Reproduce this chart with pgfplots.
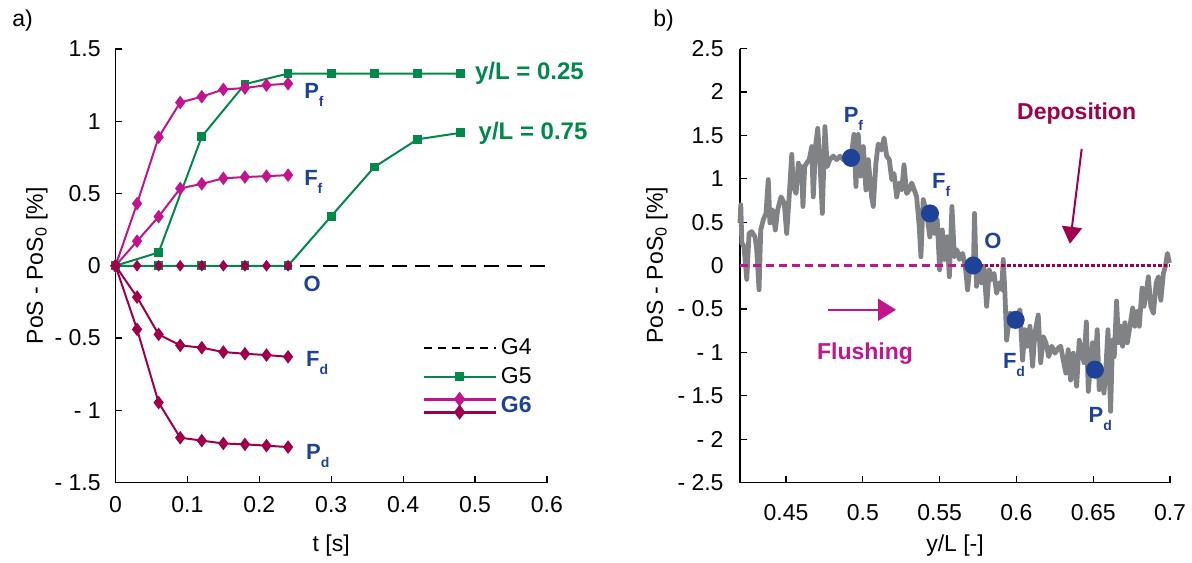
\documentclass[border=0pt]{standalone}
\usepackage{pgfplots}
\pgfplotsset{compat=1.18}
\usepackage{fontspec}
\setmainfont{Liberation Sans}
\usetikzlibrary{arrows.meta}
\definecolor{gcol}{HTML}{00894B}
\definecolor{mcol}{HTML}{C2148C}
\definecolor{ccol}{HTML}{A0004B}
\definecolor{bcol}{HTML}{1F4299}
\definecolor{grcol}{HTML}{808285}
\newcommand{\lab}[2]{\textbf{#1}\raisebox{-4pt}{\fontsize{7}{8}\selectfont\bfseries #2}}
\tikzset{lbl/.style={anchor=base west, inner sep=0pt, text=bcol, font=\fontsize{11}{13}\selectfont}}
\pgfplotsset{
  myax/.style={scale only axis, axis x line*=bottom, axis y line*=left,
    tick align=inside, major tick length=3.5pt,
    axis line style={line width=0.6pt},
    every tick/.style={black,line width=0.6pt},
    tick label style={font=\fontsize{11.5}{13}\selectfont},
    label style={font=\fontsize{11.5}{13}\selectfont},
    clip=false},
  longline legend/.style={legend image code/.code={
    \draw[mark repeat=2,mark phase=2,##1] plot coordinates {(0pt,0pt) (18pt,0pt) (36pt,0pt)};}},
  gsix legend/.style={legend image code/.code={
    \draw[mark repeat=2,mark phase=2,mcol,line width=1.4pt,mark=diamond*,mark size=2.6pt] plot coordinates {(0pt,3.25pt) (18pt,3.25pt) (36pt,3.25pt)};
    \draw[mark repeat=2,mark phase=2,ccol,line width=1.4pt,mark=diamond*,mark size=2.6pt] plot coordinates {(0pt,-3.25pt) (18pt,-3.25pt) (36pt,-3.25pt)};}},
}
\begin{document}
\begin{tikzpicture}
\useasboundingbox (-57.75pt,-39.75pt) rectangle (538.25pt,241.25pt);
\node[font=\fontsize{11.5}{13}\selectfont] at (-46.5pt,231pt) {a)};
\node[font=\fontsize{11.5}{13}\selectfont] at (274pt,231pt) {b)};
\begin{axis}[myax, at={(0,0)}, anchor=south west, width=215.7pt, height=216.75pt,
  xmin=0, xmax=0.6, ymin=-1.5, ymax=1.5,
  xtick={0,0.1,0.2,0.3,0.4,0.5,0.6}, xticklabels={0,0.1,0.2,0.3,0.4,0.5,0.6},
  ytick={-1.5,-1,-0.5,0,0.5,1,1.5}, yticklabels={- 1.5,- 1,- 0.5,0,0.5,1,1.5},
  xticklabel style={yshift=-3.6pt}, yticklabel style={xshift=-3.9pt},
  xlabel={t [s]}, ylabel={PoS - PoS\textsubscript{0} [\%]},
  xlabel style={at={(axis description cs:0.5,0)}, anchor=center, yshift=-31.5pt},
  ylabel style={at={(axis description cs:-0.182,0.5)}, anchor=center},
  legend style={draw=none, fill=none, at={(axis cs:0.426,-0.47)}, anchor=north west,
    font=\fontsize{11.5}{13}\selectfont, row sep=1pt, cells={anchor=west}, inner sep=0pt},
]
\addplot[forget plot, black, line width=1pt, dash pattern=on 7.5pt off 4pt] coordinates {(0,0) (0.6,0)};
% G5 y/L = 0.25
\addplot[forget plot, gcol, line width=1pt, mark=square*, mark size=1.7pt] coordinates {
(0,0) (0.06,0.092) (0.12,0.894) (0.18,1.257) (0.24,1.33) (0.30,1.33) (0.36,1.33) (0.42,1.33) (0.48,1.33)};
% G5 y/L = 0.75
\addplot[forget plot, gcol, line width=1pt, mark=square*, mark size=1.7pt] coordinates {
(0,0) (0.06,0) (0.12,0) (0.18,0) (0.24,0) (0.30,0.343) (0.36,0.683) (0.42,0.875) (0.48,0.92)};
% G6 flushing
\addplot[forget plot, mcol, line width=1pt, mark=diamond*, mark size=2.6pt] coordinates {
(0,0) (0.03,0.43) (0.06,0.89) (0.09,1.13) (0.12,1.17) (0.15,1.22) (0.18,1.23) (0.21,1.25) (0.24,1.26)};
\addplot[forget plot, mcol, line width=1pt, mark=diamond*, mark size=2.6pt] coordinates {
(0,0) (0.03,0.17) (0.06,0.34) (0.09,0.535) (0.12,0.567) (0.15,0.605) (0.18,0.614) (0.21,0.62) (0.24,0.627)};
% G6 deposition
\addplot[forget plot, ccol, line width=1pt, mark=diamond*, mark size=2.6pt] coordinates {
(0,0) (0.03,-0.217) (0.06,-0.475) (0.09,-0.551) (0.12,-0.567) (0.15,-0.597) (0.18,-0.609) (0.21,-0.618) (0.24,-0.63)};
\addplot[forget plot, ccol, line width=1pt, mark=diamond*, mark size=2.6pt] coordinates {
(0,0) (0.03,-0.44) (0.06,-0.947) (0.09,-1.19) (0.12,-1.21) (0.15,-1.23) (0.18,-1.236) (0.21,-1.245) (0.24,-1.255)};
% O
\addplot[forget plot, ccol, only marks, mark=diamond*, mark size=2.6pt] coordinates {
(0.03,0) (0.06,0) (0.09,0) (0.12,0) (0.15,0) (0.18,0) (0.21,0) (0.24,0)};
\addlegendimage{black, line width=1pt, dash pattern=on 4pt off 3pt, longline legend}
\addlegendentry{G4}
\addlegendimage{gcol, line width=1pt, mark=square*, mark size=1.7pt, longline legend}
\addlegendentry{G5}
\addlegendimage{gsix legend}
\addlegendentry{\textcolor{bcol}{\bfseries G6}}
\node[anchor=base west, inner sep=0pt, text=gcol, font=\fontsize{12}{14}\selectfont\bfseries] at (axis cs:0.4995,1.29) {y/L = 0.25};
\node[anchor=base west, inner sep=0pt, text=gcol, font=\fontsize{12}{14}\selectfont\bfseries] at (axis cs:0.5046,0.877) {y/L = 0.75};
\node[lbl] at (axis cs:0.262,1.154) {\lab{P}{f}};
\node[lbl] at (axis cs:0.262,0.552) {\lab{F}{f}};
\node[lbl] at (axis cs:0.261,-0.18) {\textbf{O}};
\node[lbl] at (axis cs:0.2645,-0.699) {\lab{F}{d}};
\node[lbl] at (axis cs:0.2645,-1.34) {\lab{P}{d}};
\end{axis}
\begin{axis}[myax, at={(312.25pt,0)}, anchor=south west, width=215pt, height=217pt,
  xmin=0.42, xmax=0.7, ymin=-2.5, ymax=2.5,
  xtick={0.45,0.5,0.55,0.6,0.65,0.7}, xticklabels={0.45,0.5,0.55,0.6,0.65,0.7},
  ytick={-2.5,-2,-1.5,-1,-0.5,0,0.5,1,1.5,2,2.5},
  yticklabels={- 2.5,- 2,- 1.5,- 1,- 0.5,0,0.5,1,1.5,2,2.5},
  xticklabel style={yshift=-7.5pt}, yticklabel style={xshift=-4.7pt},
  xlabel={y/L [-]}, ylabel={PoS - PoS\textsubscript{0} [\%]},
  xlabel style={at={(axis description cs:0.5,0)}, anchor=center, yshift=-31.7pt},
  ylabel style={at={(axis description cs:-0.193,0.5)}, anchor=center},
]
\addplot[grcol, line width=2.4pt, line join=round] table {
x y
0.4200 0.49
0.4205 0.70
0.4212 0.26
0.4226 0.22
0.4244 -0.16
0.4259 0.37
0.4276 0.39
0.4298 0.33
0.4309 0.18
0.4324 -0.28
0.4335 0.41
0.4352 0.53
0.4369 0.60
0.4384 0.99
0.4395 0.49
0.4413 0.64
0.4430 0.41
0.4445 0.64
0.4467 0.79
0.4488 0.72
0.4504 0.37
0.4519 0.76
0.4537 1.28
0.4547 0.91
0.4565 0.83
0.4580 1.18
0.4591 0.99
0.4600 1.14
0.4610 0.68
0.4621 1.14
0.4634 1.18
0.4651 1.22
0.4667 1.37
0.4677 0.79
0.4693 1.39
0.4706 1.58
0.4721 1.18
0.4736 0.60
0.4753 1.60
0.4768 1.14
0.4785 1.22
0.4807 1.26
0.4829 1.22
0.4851 1.26
0.4872 1.22
0.4890 1.22
0.4923 1.24
0.4942 1.51
0.4955 0.91
0.4970 1.51
0.4986 1.03
0.5003 1.37
0.5020 0.87
0.5035 1.22
0.5057 0.79
0.5068 0.68
0.5085 1.18
0.5100 1.40
0.5122 1.33
0.5138 1.47
0.5155 1.26
0.5172 1.22
0.5188 0.99
0.5203 1.06
0.5220 0.79
0.5237 0.95
0.5253 0.87
0.5268 1.16
0.5285 0.83
0.5302 0.87
0.5318 0.95
0.5335 0.87
0.5350 0.79
0.5367 0.45
0.5378 0.10
0.5393 0.76
0.5415 0.61
0.5436 0.33
0.5454 0.53
0.5469 0.37
0.5484 0.53
0.5500 -0.05
0.5517 0.41
0.5531 0.07
0.5548 0.33
0.5563 -0.13
0.5580 0.68
0.5596 0.10
0.5613 0.18
0.5628 0.07
0.5649 0.14
0.5667 -0.01
0.5682 -0.28
0.5697 -0.01
0.5720 0.00
0.5727 0.60
0.5740 -0.24
0.5755 -0.01
0.5773 -0.20
0.5788 -0.01
0.5806 -0.47
0.5823 -0.05
0.5839 -0.16
0.5854 -0.09
0.5871 -0.32
0.5888 -0.20
0.5904 -0.28
0.5914 0.07
0.5925 -0.32
0.5936 -0.86
0.5958 -0.55
0.5973 -0.70
0.5995 -0.63
0.6023 -0.51
0.6040 -1.09
0.6055 -0.74
0.6070 -0.93
0.6088 -0.70
0.6105 -1.16
0.6120 -0.78
0.6142 -0.57
0.6158 -1.12
0.6175 -0.82
0.6192 -0.89
0.6210 -1.05
0.6229 -0.93
0.6251 -1.01
0.6273 -0.95
0.6288 -0.93
0.6305 -1.09
0.6322 -1.24
0.6337 -0.97
0.6353 -1.32
0.6370 -1.01
0.6392 -1.39
0.6409 -0.86
0.6425 -1.00
0.6440 -1.12
0.6455 -0.65
0.6468 -1.45
0.6483 -1.12
0.6496 -0.89
0.6511 -1.20
0.6526 -0.74
0.6539 -1.43
0.6555 -1.24
0.6570 -1.47
0.6583 -1.16
0.6596 -0.74
0.6613 -1.68
0.6626 -0.86
0.6637 -1.05
0.6652 -0.41
0.6665 -0.89
0.6678 -0.70
0.6691 -0.93
0.6706 -0.66
0.6722 -0.89
0.6739 -0.70
0.6757 -0.49
0.6771 -0.70
0.6787 -0.53
0.6800 -0.70
0.6818 -0.26
0.6831 -0.47
0.6844 -0.32
0.6859 -0.13
0.6875 -0.47
0.6892 -0.55
0.6910 -0.20
0.6925 -0.13
0.6940 -0.40
0.6957 -0.09
0.6970 -0.01
0.6983 0.14
0.6996 0.03
};
\draw[draw=mcol, line width=1.1pt, dash pattern=on 4pt off 2.5pt] (axis cs:0.42,0) -- (axis cs:0.572,0);
\draw[draw=ccol, line width=1.1pt, dash pattern=on 1.8pt off 1pt] (axis cs:0.572,0) -- (axis cs:0.7,0);
\addplot[bcol, only marks, mark=*, mark size=4.3pt] coordinates {
(0.4923,1.24) (0.5437,0.60) (0.5719,0.0) (0.5995,-0.626) (0.6511,-1.20)};
\node[lbl] at (axis cs:0.4873,1.652) {\lab{P}{f}};
\node[lbl] at (axis cs:0.5448,0.892) {\lab{F}{f}};
\node[lbl] at (axis cs:0.5789,0.20) {\textbf{O}};
\node[lbl] at (axis cs:0.591,-1.19) {\lab{F}{d}};
\node[lbl] at (axis cs:0.6468,-1.81) {\lab{P}{d}};
\node[text=ccol, font=\fontsize{11.5}{13}\selectfont\bfseries] at (axis cs:0.6392,1.756) {Deposition};
\node[text=mcol, font=\fontsize{11.5}{13}\selectfont\bfseries] at (axis cs:0.5014,-1.01) {Flushing};
\draw[mcol, line width=1pt, -{Triangle[length=9pt,width=11pt]}] (axis cs:0.4773,-0.51) -- (axis cs:0.5216,-0.51);
\draw[ccol, line width=1pt, -{Triangle[length=8.5pt,width=10pt]}] (axis cs:0.6425,1.344) -- (axis cs:0.6348,0.25);
\end{axis}
\end{tikzpicture}
\end{document}
